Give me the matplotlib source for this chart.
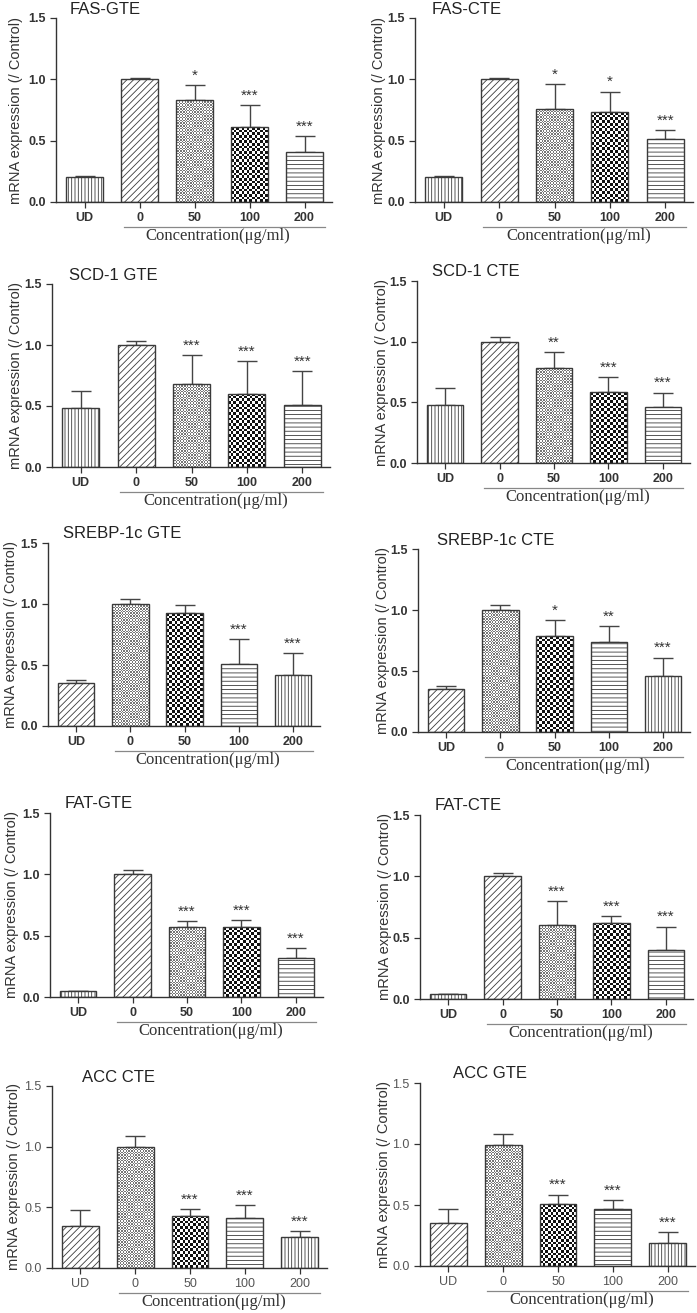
import numpy as np
import matplotlib
matplotlib.use("Agg")
import matplotlib.pyplot as plt
from matplotlib.colors import ListedColormap

plt.rcParams['font.family'] = ['Liberation Sans', 'DejaVu Sans']
plt.rcParams['hatch.linewidth'] = 0.6

groups = ['UD', '0', '50', '100', '200']

# means and upper error (SEM)
fas_gte_mean = [0.20, 1.00, 0.83, 0.61, 0.405]
fas_gte_err = [0.01, 0.01, 0.12, 0.18, 0.135]
fas_gte_sig = ['', '', '*', '***', '***']

fas_cte_mean = [0.20, 1.00, 0.76, 0.73, 0.515]
fas_cte_err = [0.01, 0.01, 0.20, 0.17, 0.07]
fas_cte_sig = ['', '', '*', '*', '***']

scd_gte_mean = [0.485, 1.00, 0.68, 0.60, 0.51]
scd_gte_err = [0.135, 0.035, 0.235, 0.265, 0.275]
scd_gte_sig = ['', '', '***', '***', '***']

scd_cte_mean = [0.48, 1.00, 0.785, 0.585, 0.46]
scd_cte_err = [0.14, 0.035, 0.13, 0.125, 0.12]
scd_cte_sig = ['', '', '**', '***', '***']

srebp_gte_mean = [0.355, 1.00, 0.925, 0.51, 0.415]
srebp_gte_err = [0.02, 0.04, 0.07, 0.20, 0.185]
srebp_gte_sig = ['', '', '', '***', '***']

srebp_cte_mean = [0.355, 1.00, 0.785, 0.74, 0.46]
srebp_cte_err = [0.02, 0.04, 0.135, 0.13, 0.15]
srebp_cte_sig = ['', '', '*', '**', '***']

fat_gte_mean = [0.05, 1.00, 0.57, 0.57, 0.315]
fat_gte_err = [0.0, 0.035, 0.05, 0.055, 0.085]
fat_gte_sig = ['', '', '***', '***', '***']

fat_cte_mean = [0.04, 1.00, 0.60, 0.62, 0.40]
fat_cte_err = [0.0, 0.03, 0.195, 0.055, 0.19]
fat_cte_sig = ['', '', '***', '***', '***']

acc_cte_mean = [0.35, 1.00, 0.43, 0.415, 0.255]
acc_cte_err = [0.125, 0.085, 0.055, 0.105, 0.05]
acc_cte_sig = ['', '', '***', '***', '***']

acc_gte_mean = [0.35, 0.99, 0.505, 0.47, 0.19]
acc_gte_err = [0.12, 0.09, 0.08, 0.07, 0.085]
acc_gte_sig = ['', '', '***', '***', '***']

fill_a = ['vert', 'diag', 'fine', 'checker', 'horiz']
fill_b = ['diag', 'fine', 'checker', 'horiz', 'vert']

# title, mean, err, sig, fills, bold ticks, axes box px (left, right, top, bottom), title x, ylabel x px
panels = [
    ('FAS-GTE', fas_gte_mean, fas_gte_err, fas_gte_sig, fill_a, True, (56, 332, 18, 202), 0.05, 16),
    ('FAS-CTE', fas_cte_mean, fas_cte_err, fas_cte_sig, fill_a, True, (415, 693, 18, 202), 0.06, 379),
    ('SCD-1 GTE', scd_gte_mean, scd_gte_err, scd_gte_sig, fill_a, True, (52, 330, 284, 467), 0.06, 16),
    ('SCD-1 CTE', scd_cte_mean, scd_cte_err, scd_cte_sig, fill_a, True, (417, 690, 281, 463), 0.055, 382),
    ('SREBP-1c GTE', srebp_gte_mean, srebp_gte_err, srebp_gte_sig, fill_b, True, (48, 320, 543, 726), 0.055, 11),
    ('SREBP-1c CTE', srebp_cte_mean, srebp_cte_err, srebp_cte_sig, fill_b, True, (418, 690, 549, 732), 0.07, 383),
    ('FAT-GTE', fat_gte_mean, fat_gte_err, fat_gte_sig, fill_a, True, (50, 323, 813, 997), 0.055, 12),
    ('FAT-CTE', fat_cte_mean, fat_cte_err, fat_cte_sig, fill_a, True, (420, 693, 815, 999), 0.055, 385),
    ('ACC CTE', acc_cte_mean, acc_cte_err, acc_cte_sig, fill_b, False, (52, 327, 1086, 1268), 0.11, 14),
    ('ACC GTE', acc_gte_mean, acc_gte_err, acc_gte_sig, fill_b, False, (420, 695, 1083, 1266), 0.12, 384),
]

W, H = 697, 1313
EDGE = '#3a3a3a'
HATCH = {'vert': '|||||', 'diag': '/////', 'horiz': '----'}


def pattern_fill(ax, bar, cell_px, dark):
    x0, y0 = bar.get_x(), bar.get_y()
    w, h = bar.get_width(), bar.get_height()
    (px0, py0), (px1, py1) = ax.transData.transform([(x0, y0), (x0 + w, y0 + h)])
    nx = max(1, int(round((px1 - px0) / cell_px)))
    ny = max(1, int(round((py1 - py0) / cell_px)))
    grid = np.add.outer(np.arange(ny), np.arange(nx)) % 2
    im = ax.imshow(grid, cmap=ListedColormap(['white', dark]), extent=(x0, x0 + w, y0, y0 + h),
                   aspect='auto', interpolation='nearest', origin='lower', zorder=2)
    im.set_clip_path(bar)


fig = plt.figure(figsize=(W / 100, H / 100), dpi=100)

for title, mean, err, sig, fills, bold, box, tx, lx in panels:
    l, r, t, b = box
    ax = fig.add_axes([l / W, 1 - b / H, (r - l) / W, (b - t) / H])
    x = np.arange(len(groups))
    xlim = (-0.52, 4.5)
    ax.set_xlim(*xlim)
    ax.set_ylim(0, 1.5)

    for i, f in enumerate(fills):
        if f in HATCH:
            ax.bar(x[i], mean[i], width=0.67, color='white', edgecolor=EDGE, hatch=HATCH[f],
                   linewidth=1.0, zorder=2)
        else:
            base = ax.bar(x[i], mean[i], width=0.67, color='white', edgecolor='none', zorder=1)[0]
            if f == 'checker':
                pattern_fill(ax, base, 2.7, '#111111')
            else:
                pattern_fill(ax, base, 1.4, '#777777')
            ax.bar(x[i], mean[i], width=0.67, fill=False, edgecolor=EDGE, linewidth=1.0, zorder=3)

    ax.set_xlim(*xlim)
    ax.set_ylim(0, 1.5)

    ax.errorbar(x, mean, yerr=[np.zeros(len(err)), err], fmt='none', ecolor='#444444',
                elinewidth=1.0, capsize=7, capthick=1.0, zorder=1)
    for i, s in enumerate(sig):
        if s:
            ax.text(x[i], mean[i] + err[i] + 0.02, s, ha='center', va='bottom',
                    fontsize=11, color='#333333')

    for side in ['top', 'right']:
        ax.spines[side].set_visible(False)
    for side in ['left', 'bottom']:
        ax.spines[side].set_color('#333333')
        ax.spines[side].set_linewidth(1.0)

    ax.set_yticks([0.0, 0.5, 1.0, 1.5])
    ax.set_yticklabels(['0.0', '0.5', '1.0', '1.5'])
    ax.set_xticks(x)
    ax.set_xticklabels(groups)
    weight = 'bold' if bold else 'normal'
    tcol = '#333333' if bold else '#555555'
    ax.tick_params(axis='both', length=4, width=0.9, color='#333333', labelsize=9,
                   labelcolor=tcol)
    for lab in ax.get_xticklabels() + ax.get_yticklabels():
        lab.set_fontweight(weight)
    ax.set_ylabel('mRNA expression (/ Control)', fontsize=10.5, color='#333333', va='center')
    ax.yaxis.set_label_coords((lx - l) / (r - l), 0.5)

    ax.text(tx, 1.0 + 9 / (b - t), title, transform=ax.transAxes, ha='left', va='center',
            fontsize=12, color='#222222')

    trans = matplotlib.transforms.blended_transform_factory(ax.transData, ax.transAxes)
    ax.plot([0.71, 4.37], [-0.135, -0.135], transform=trans, color='#888888', lw=0.9,
            clip_on=False)
    ax.text(2.43, -0.185, 'Concentration(μg/ml)', transform=trans, ha='center', va='center',
            fontsize=12, color='#333333', family=['Liberation Serif', 'DejaVu Serif'])

fig.savefig('out.png', dpi=100)
